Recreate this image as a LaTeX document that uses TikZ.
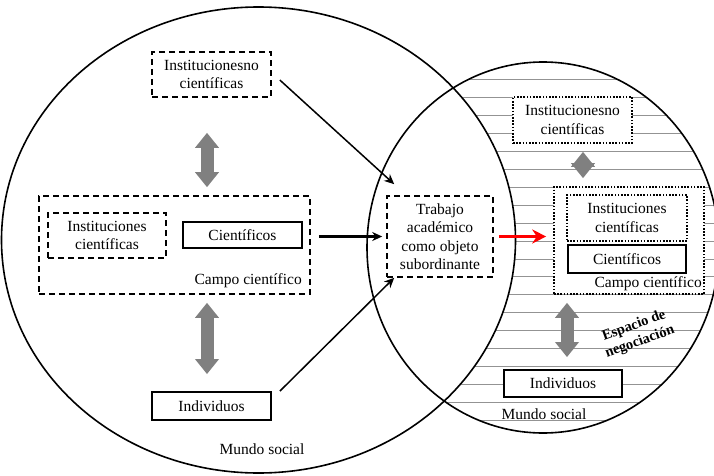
\documentclass[tikz,border=0pt]{standalone}
\usepackage{fontspec}
\setmainfont{Liberation Serif}
\usetikzlibrary{arrows.meta}

\begin{document}
\begin{tikzpicture}[x=1pt, y=-1pt]
    % Estilos de los nodos
    \tikzstyle{caja}=[rectangle, draw, line width=1.8pt, fill=white, inner sep=0pt, align=center, font=\fontsize{15.5}{18.5}\selectfont]
    \tikzstyle{rayas}=[caja, line width=1.6pt, dash pattern=on 6pt off 4pt]
    \tikzstyle{puntos}=[caja, line width=1.6pt, dash pattern=on 1.6pt off 1.6pt]
    \tikzstyle{etiqueta}=[inner sep=0pt, font=\fontsize{15.5}{18.5}\selectfont]
    \tikzstyle{doble}=[line width=13pt, gray, {Triangle[width=23pt,length=15pt]}-{Triangle[width=23pt,length=15pt]}]
    \tikzstyle{flecha}=[-{Stealth[length=10pt,width=9pt]}, line width=1.5pt]
    \useasboundingbox (0,0) rectangle (714,476);

    % Rayado del espacio de negociacion
    \begin{scope}
        \clip (543,247.5) ellipse [x radius=176pt, y radius=185.5pt];
        \foreach \k in {0,...,19}
            \draw[gray!85, line width=1pt] (360,{80+17.9*\k}) -- (720,{80+17.9*\k});
    \end{scope}
    \fill[white] (258.5,240) ellipse [x radius=257pt, y radius=233pt];

    % Mundos sociales
    \draw[line width=1.6pt] (258.5,240) ellipse [x radius=257pt, y radius=233pt];
    \draw[line width=1.6pt] (543,247.5) ellipse [x radius=176pt, y radius=185.5pt];

    % Mundo social izquierdo
    \node[rayas, minimum width=119pt, minimum height=45pt] (inc1) at (211.5,74.5) {Institucionesno\\científicas};
    \node[rayas, minimum width=271pt, minimum height=98pt] (campo1) at (174.5,245) {};
    \node[rayas, minimum width=118pt, minimum height=45pt] (ic1) at (107,235.5) {Instituciones\\científicas};
    \node[caja, minimum width=119pt, minimum height=26pt] (cie1) at (242.5,235) {Científicos};
    \node[etiqueta, anchor=east] (lcampo1) at (302,281) {Campo científico};
    \node[caja, minimum width=119pt, minimum height=28pt] (ind1) at (211.5,406) {Individuos};
    \node[etiqueta] (mundo1) at (262,449) {Mundo social};

    % Objeto subordinante
    \node[rayas, minimum width=106pt, minimum height=81pt] (trab) at (440,236.5) {Trabajo\\académico\\como objeto\\subordinante};

    % Mundo social derecho
    \node[puntos, minimum width=119pt, minimum height=46pt] (inc2) at (572.5,120) {Institucionesno\\científicas};
    \node[puntos, minimum width=150pt, minimum height=107pt] (campo2) at (629,240.5) {};
    \node[puntos, minimum width=120pt, minimum height=46pt] (ic2) at (627,218) {Instituciones\\científicas};
    \node[caja, minimum width=118pt, minimum height=28pt] (cie2) at (627,259) {Científicos};
    \node[etiqueta, anchor=east] (lcampo2) at (702,284) {Campo científico};
    \node[caja, minimum width=118pt, minimum height=27pt] (ind2) at (563,383.5) {Individuos};
    \node[etiqueta] (mundo2) at (544,414) {Mundo social};
    \node[inner sep=0pt, align=center, rotate=20, font=\fontsize{14.5}{17}\selectfont\bfseries] (esp) at (637,334) {Espacio de\\negociación};

    % Flechas dobles
    \draw[doble, shorten <=35pt, shorten >=8pt] ([xshift=-4.5pt]inc1.south) -- ([xshift=-4.5pt]inc1.south |- campo1.north);
    \draw[doble, shorten <=8pt, shorten >=17pt] ([xshift=-4.5pt]ind1.north |- campo1.south) -- ([xshift=-4.5pt]ind1.north);
    \draw[doble, shorten <=8pt, shorten >=8pt] ([xshift=10.5pt]inc2.south) -- ([xshift=10.5pt]inc2.south |- campo2.north);
    \draw[doble, shorten <=8pt, shorten >=12pt] ([xshift=4pt]ind2.north |- campo2.south) -- ([xshift=4pt]ind2.north);

    % Flechas hacia el trabajo academico
    \draw[flecha] ([xshift=8pt, yshift=-5.5pt]inc1.east) -- ([xshift=8pt, yshift=11pt]trab.north west);
    \draw[flecha, line width=2.5pt, shorten <=8pt, shorten >=4pt] (campo1.east |- trab.west) -- (trab.west);
    \draw[flecha] ([xshift=8pt]ind1.north east) -- ([xshift=8pt]trab.south west);
    \draw[flecha, red, line width=3.5pt, -{Stealth[length=14pt,width=14pt]}, shorten <=5pt, shorten >=7pt] (trab.east) -- (trab.east -| campo2.west);
\end{tikzpicture}
\end{document}
